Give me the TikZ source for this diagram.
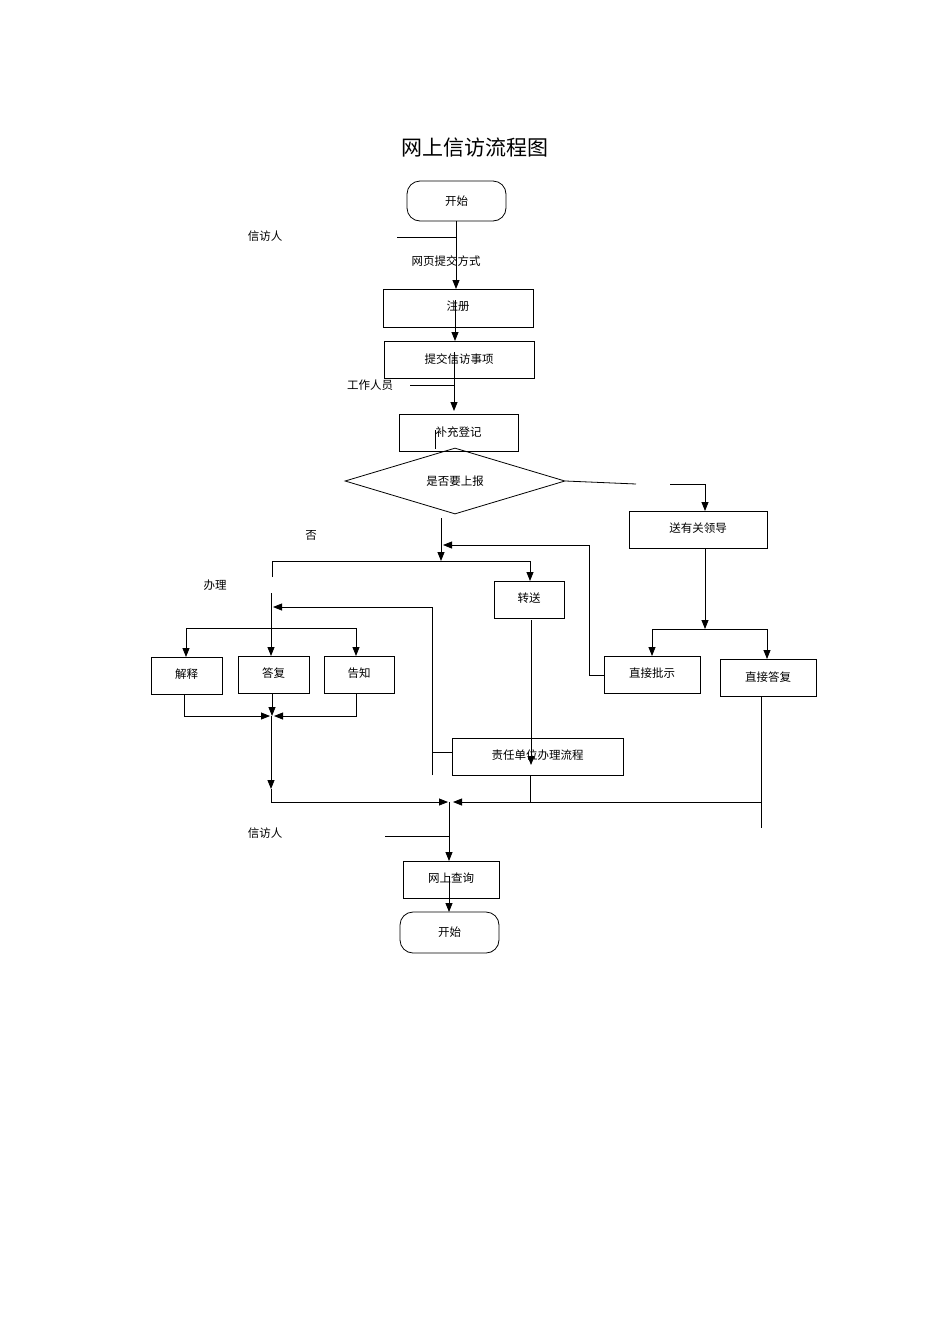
\documentclass[tikz,border=0pt]{standalone}
\usepackage{fontspec}
\setmainfont{Noto Sans CJK SC}
\usetikzlibrary{arrows.meta,shapes.geometric}
\begin{document}
\begin{tikzpicture}[x=1pt,y=-1pt,
  every node/.style={font=\fontsize{11.5}{13}\selectfont},
  box/.style={draw,line width=1pt,inner sep=0pt},
  term/.style={draw,line width=0.8pt,rounded corners=13pt,inner sep=0pt},
  ln/.style={line width=0.8pt},
  ar/.style={line width=0.8pt,-{Triangle[length=9pt,width=7pt]}},
  lbl/.style={inner sep=0pt}]
\useasboundingbox (0,0) rectangle (950,1344);
\node[lbl,font=\fontsize{21}{24}\selectfont] (title) at (475,148) {网上信访流程图};
% boxes: box(name,x1,y1,x2,y2,text)
\newcommand\mybox[7][box]{\node[#1,minimum width={#5-#3},minimum height={#6-#4}] (#2) at ({(#3+#5)/2},{(#4+#6)/2}) {#7};}
\mybox[term]{s1}{407}{181}{506}{221}{开始}
\mybox{zc}{383}{289}{533}{327}{\raisebox{4pt}{注册}}
\mybox{tj}{384}{341}{534}{378}{\raisebox{2pt}{提交信访事项}}
\mybox{bc}{399}{414}{518}{451}{\raisebox{2pt}{补充登记}}
\node[draw,line width=0.8pt,diamond,aspect=3.33,minimum width=220pt,minimum height=66pt,inner sep=0pt] (dm) at (455,481) {是否要上报};
\mybox{ld}{629}{511}{767}{548}{\raisebox{4pt}{送有关领导}}
\mybox{zs}{494}{581}{564}{618}{\raisebox{4pt}{转送}}
\mybox{js}{151}{657}{222}{694}{\raisebox{4pt}{解释}}
\mybox{df}{238}{656}{309}{693}{\raisebox{4pt}{答复}}
\mybox{gz}{324}{656}{394}{693}{\raisebox{4pt}{告知}}
\mybox{ps}{604}{656}{700}{693}{\raisebox{4pt}{直接批示}}
\mybox{dd}{720}{659}{816}{696}{\raisebox{2pt}{直接答复}}
\mybox{zr}{452}{738}{623}{775}{\raisebox{4pt}{责任单位办理流程}}
\mybox{cx}{403}{861}{499}{898}{\raisebox{4pt}{网上查询}}
\mybox[term]{s2}{400}{912}{499}{953}{开始}
% labels
\node[lbl] (l1) at (265,236) {信访人};
\node[lbl,fill=none] (l2) at (446,261) {网页提交方式};
\node[lbl] (l3) at (370,385) {工作人员};
\node[lbl] (l4) at (311,535) {否};
\node[lbl] (l5) at (215,585) {办理};
\node[lbl] (l6) at (265,833) {信访人};
% top chain
\coordinate (a1) at (456,221); \coordinate (a2) at (456,289);
\draw[ar] (a1) -- (a2);
\coordinate (h1) at (397,237); \coordinate (h1e) at (456,237); \draw[ln] (h1) -- (h1e);
\coordinate (b1) at (455,300); \coordinate (b2) at (455,341); \draw[ar] (b1) -- (b2);
\coordinate (c1) at (454,352); \coordinate (c2) at (454,411); \draw[ar] (c1) -- (c2);
\coordinate (h2) at (410,385); \coordinate (h2e) at (454,385); \draw[ln] (h2) -- (h2e);
\coordinate (d1) at (435,430); \coordinate (d2) at (435,449); \draw[ln] (d1) -- (d2);
% yes branch
\coordinate (e1) at (636,484); \coordinate (e2) at (670,484); \coordinate (e3) at (705,484); \coordinate (e4) at (705,511);
\draw[ln] (dm.east) -- (e1);
\draw[ar] (e2) -- (e3) -- (e4);
\coordinate (f1) at (705,548); \coordinate (f2) at (705,629); \draw[ar] (f1) -- (f2);
\coordinate (f3) at (652,629); \coordinate (f4) at (652,656); \coordinate (f5) at (767,629); \coordinate (f6) at (767,659);
\draw[ar] (f3) -- (f4); \draw[ar] (f3) -- (f5) -- (f6);
% no branch
\coordinate (g1) at (441,518); \coordinate (g2) at (441,561); \draw[ar] (g1) -- (g2);
\coordinate (g3) at (272,577); \coordinate (g4) at (272,561); \coordinate (g5) at (530,561); \coordinate (g6) at (530,581);
\draw[ar] (g3) -- (g4) -- (g5) -- (g6);
\coordinate (p1) at (589,675); \coordinate (p2) at (589,545); \coordinate (p3) at (443,545);
\draw[ar] (ps.west |- p1) -- (p1) -- (p2) -- (p3);
\coordinate (z1) at (531,620); \coordinate (z2) at (531,765); \draw[ar] (z1) -- (z2);
% 办理
\coordinate (k1) at (271,593); \coordinate (k2) at (271,656); \draw[ar] (k1) -- (k2);
\coordinate (r1) at (432,775); \coordinate (r2) at (432,607); \coordinate (r3) at (273,607);
\draw[ar] (r1) -- (r2) -- (r3);
\coordinate (r4) at (453,752); \coordinate (r5) at (432,752); \draw[ln] (r5) -- (r4);
\coordinate (m1) at (186,628); \coordinate (m2) at (186,657); \coordinate (m3) at (356,628); \coordinate (m4) at (356,656);
\draw[ar] (m3) -- (m1) -- (m2); \draw[ar] (m3) -- (m4);
\coordinate (n1) at (184,694); \coordinate (n2) at (184,716); \coordinate (n3) at (270,716);
\draw[ar] (n1) -- (n2) -- (n3);
\coordinate (n4) at (272,693); \coordinate (n5) at (272,716); \draw[ar] (n4) -- (n5);
\coordinate (n6) at (356,693); \coordinate (n7) at (356,716); \coordinate (n8) at (274,716);
\draw[ar] (n6) -- (n7) -- (n8);
\coordinate (o1) at (271,716); \coordinate (o2) at (271,789); \draw[ar] (o1) -- (o2);
\coordinate (o3) at (271,802); \coordinate (o4) at (448,802);
\draw[ar] (o2) -- (o3) -- (o4);
\coordinate (q1) at (761,802); \coordinate (q2) at (453,802); \draw[ar] (q1) -- (q2);
\coordinate (q3) at (530,775); \coordinate (q4) at (530,802); \draw[ln] (q3) -- (q4);
\coordinate (q5) at (761,696); \coordinate (q6) at (761,828); \draw[ln] (q5) -- (q6);
% bottom
\coordinate (t1) at (449,802); \coordinate (t2) at (449,861); \draw[ar] (t1) -- (t2);
\coordinate (t3) at (385,836); \coordinate (t4) at (449,836); \draw[ln] (t3) -- (t4);
\coordinate (t5) at (449,876); \coordinate (t6) at (449,912); \draw[ar] (t5) -- (t6);
\end{tikzpicture}
\end{document}
